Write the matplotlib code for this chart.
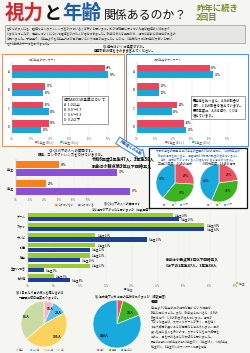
import numpy as np
import matplotlib.pyplot as plt
from matplotlib.patches import Rectangle

plt.rcParams['font.family'] = ['Noto Sans CJK JP', 'DejaVu Sans']

# Q1 視力 (令和5年度 / 令和6年度)
levels = ['A', 'B', 'C', 'D']
r5_year1 = [48, 17, 16, 19]
r5_year2 = [50, 16, 19, 15]
r6_year1 = [40, 12, 22, 26]
r6_year2 = [42, 12, 19, 27]
r5_legend = ['1年生 (50人)', '2年生 (53人)']
r6_legend = ['1年生 (41人)', '2年生 (53人)']

# Q2 眼鏡・コンタクト
q2_grades = ['2年生', '3年生']
q2_no = [30, 21]
q2_yes = [70, 79]
q2_legend = ['つけていない', 'つけている']

# 文部科学省の調査
pie_labels = ['A', 'B', 'C以下']
pie_h27 = [26, 35, 39]
pie_r1 = [23, 34, 44]

# Q3 視力が下がった理由
q3_reasons = ['ゲーム', 'スマホ', 'テレビ', '読書', '勉強', '生まれつき', 'その他']
q3_year2 = [28, 34, 13, 13, 12, 12, 5]
q3_year3 = [29, 34, 23, 12, 10, 3, 8]

# Q4, Q5
q4_labels = ['毎日', '4〜6日', '1〜3日', '0日']
q4_counts = [15, 23, 105, 81]
q5_labels = ['痛み', '乱視', '特にない']
q5_counts = [9, 33, 180]

RED, CYAN = '#e8475a', '#1aa6d8'
ORANGE, PURPLE = '#f5821f', '#8b4fd6'
LIME, NAVY = '#9cc93a', '#1b3f9a'
PIE3 = ['#ea5362', '#3cb421', '#19a9dd']
PIE4 = ['#f5b8c6', '#58bfe8', '#fbd35c', '#cadca4']

W, H = 250, 353
fig = plt.figure(figsize=(W / 100, H / 100), dpi=100)
fig.patch.set_facecolor('#f5f5f2')


def px_axes(x, y, w, h):
    ax = fig.add_axes([x / W, 1 - (y + h) / H, w / W, h / H])
    ax.set_facecolor('none')
    return ax


def txt(x, y, s, **kw):
    kw.setdefault('fontsize', 2.2)
    return fig.text(x / W, 1 - y / H, s, **kw)


def box(x, y, w, h, ec, fc='white', lw=0.8):
    fig.patches.append(Rectangle((x / W, 1 - (y + h) / H), w / W, h / H,
                                 transform=fig.transFigure, ec=ec, fc=fc,
                                 lw=lw, zorder=-1))


def key(x, y, color, label, fs=2.0):
    txt(x, y, '■', color=color, fontsize=fs, va='center')
    txt(x + 3, y, label, fontsize=fs, va='center', color='#444444')


def style_bar_axes(ax, xmax, step, tmax=None):
    ticks = np.arange(0, (tmax if tmax is not None else xmax) + 0.1, step)
    ax.set_xlim(0, xmax)
    ax.set_xticks(ticks)
    ax.set_xticklabels([f'{t:.0f}%' for t in ticks])
    ax.tick_params(axis='x', labelsize=1.8, length=0, pad=1, colors='#777777')
    ax.tick_params(axis='y', labelsize=2.2, length=0, pad=1.5)
    for s in ['top', 'right', 'bottom']:
        ax.spines[s].set_visible(False)
    ax.spines['left'].set_color('#bbbbbb')
    ax.spines['left'].set_linewidth(0.3)
    ax.grid(axis='x', color='#e4e4e4', lw=0.3)
    ax.set_axisbelow(True)


# ---- タイトル ----
txt(5, 19, '視力', color='#d8252b', fontsize=14, fontweight='bold', va='baseline')
txt(44, 19, 'と', color='#111111', fontsize=13, fontweight='bold', va='baseline')
txt(62, 19, '年齢', color='#1f5fa8', fontsize=14, fontweight='bold', va='baseline')
txt(104, 19, '関係あるのか？', color='#111111', fontsize=8.6, va='baseline')
txt(196, 11, '昨年に続き', color='#7b8a1c', fontsize=6, fontweight='bold', va='baseline')
txt(196, 20, '2回目', color='#7b8a1c', fontsize=6, fontweight='bold', va='baseline')

box(5, 25, 240, 18, ec='#999999', fc='#e6e6e4', lw=0.5)
intro = ('皆さんの友人にも、眼鏡やコンタクトレンズをかけている人は多いと思います。私が幼稚園に行っていた頃は眼鏡の人はあまり\n'
         'いませんでしたが、進学していくにつれて眼鏡をかけた人が増えてきました。昨年はそんな疑問から、視力と年齢には関係があるの\n'
         'か調べました。予想通り、1年生よりも2年生の方が目が悪いという結果が出ました。しかし、1年分だけでは誤差が大きいと思い、\n'
         'もう1年分のデータを取りました。')
txt(7, 26.5, intro, fontsize=2.1, va='top', linespacing=1.25, color='#333333')

txt(125, 49, 'Q1.視力はいくつ程度ですか。\n健康診断の値をそのまま答えてください。',
    fontsize=2.3, ha='center', va='center', linespacing=1.25)

# ---- Q1 令和5年度 ----
box(2, 54, 122, 92, ec='#f08a4b', lw=0.7)
ax = px_axes(12, 62, 106, 74)
y = np.arange(len(levels))
ax.barh(y - 0.18, r5_year1, height=0.34, color=RED)
ax.barh(y + 0.18, r5_year2, height=0.34, color=CYAN)
for yi, a, b in zip(y, r5_year1, r5_year2):
    ax.text(a + 0.8, yi - 0.18, f'{a}%', va='center', fontsize=2)
    ax.text(b + 0.8, yi + 0.18, f'{b}%', va='center', fontsize=2)
ax.set_yticks(y)
ax.set_yticklabels(levels)
ax.set_ylim(len(levels) - 0.5, -0.5)
style_bar_axes(ax, 55, 10)
txt(42, 60, '令和5年度のアンケート', fontsize=2, ha='center', color='#444444')
key(35, 142, RED, r5_legend[0])
key(60, 142, CYAN, r5_legend[1])
txt(64, 98, '視力ABCDの基準について\nA  1.0以上\nB  0.9〜0.7\nC  0.6〜0.3\nD  0.2以下',
    fontsize=2.6, va='top', linespacing=1.35,
    bbox=dict(boxstyle='square,pad=0.5', fc='white', ec='#555555', lw=0.4))

# ---- Q1 令和6年度 ----
box(126, 54, 122, 92, ec='#4a8fd0', lw=0.7)
ax = px_axes(137, 62, 100, 74)
ax.barh(y - 0.18, r6_year1, height=0.34, color=RED)
ax.barh(y + 0.18, r6_year2, height=0.34, color=CYAN)
for yi, a, b in zip(y, r6_year1, r6_year2):
    ax.text(a + 0.8, yi - 0.18, f'{a}%', va='center', fontsize=2)
    ax.text(b + 0.8, yi + 0.18, f'{b}%', va='center', fontsize=2)
ax.set_yticks(y)
ax.set_yticklabels(levels)
ax.set_ylim(len(levels) - 0.5, -0.5)
style_bar_axes(ax, 55, 10)
txt(167, 60, '令和6年度のアンケート', fontsize=2, ha='center', color='#444444')
key(165, 142, RED, r6_legend[0])
key(192, 142, CYAN, r6_legend[1])
txt(193, 98, '■全体を比べると、A,Bの割合は\n減り、C,Dの割合は増えています。\n■昨年度に、A,Bは減り、C,Dは\n増えています。',
    fontsize=2.3, va='top', linespacing=1.35,
    bbox=dict(boxstyle='square,pad=0.5', fc='white', ec='#555555', lw=0.4))

txt(130, 148, '昨年度との比較', fontsize=2.6, ha='center', va='center', rotation=-32,
    color='#1f4f9a', fontweight='bold',
    bbox=dict(boxstyle='rarrow,pad=0.5', fc='white', ec='#3a8fd8', lw=0.8))

# ---- Q2 ----
txt(72, 153, 'Q2.Q1以下の人への質問です。\n眼鏡、コンタクトレンズをつけていますか。',
    fontsize=2.4, ha='center', va='center', linespacing=1.3)
ax = px_axes(16, 159, 130, 38)
y2 = np.arange(len(q2_grades))
ax.barh(y2 - 0.21, q2_no, height=0.34, color=ORANGE)
ax.barh(y2 + 0.21, q2_yes, height=0.34, color=PURPLE)
for yi, a, b in zip(y2, q2_no, q2_yes):
    ax.text(a + 1, yi - 0.21, f'{a}%', va='center', fontsize=2)
    ax.text(b + 1, yi + 0.21, f'{b}%', va='center', fontsize=2)
ax.set_yticks(y2)
ax.set_yticklabels(q2_grades)
ax.set_ylim(len(q2_grades) - 0.5, -0.5)
style_bar_axes(ax, 90, 10, tmax=50)
ax.tick_params(axis='y', labelsize=2)
key(55, 205, ORANGE, q2_legend[0])
key(78, 205, PURPLE, q2_legend[1])
txt(92, 162, '令和6年度2年生47人、3年生58人\n割合は小数点第3位以下四捨五入',
    fontsize=3, va='center', fontweight='bold', linespacing=1.3)

# ---- 文部科学省の調査 ----
box(149, 148, 98, 60, ec='#111111', lw=0.9)
txt(198, 155, '文部科学省の調査 平成27年度の全国の13歳の視力と、令和元年度の\n14歳の視力を比べると、裸眼視力1.0未満の割合が増えています。\n年々、視力が下がっている人が増えていると考えられます。',
    fontsize=2, ha='center', va='center', color='#2a5db0', linespacing=1.25)
for cx, vals, title in [(175, pie_h27, '平成27年度　13歳の視力'),
                        (219, pie_r1, '令和元年度　14歳の視力')]:
    ax = px_axes(cx - 19, 183 - 19, 38, 38)
    ax.pie(vals, colors=PIE3, startangle=90, counterclock=False,
           labels=[f'{v}%' for v in vals], labeldistance=0.55,
           wedgeprops=dict(ec='white', lw=0.4), textprops=dict(fontsize=2.2))
    ax.set_xlim(-1, 1)
    ax.set_ylim(-1, 1)
    txt(cx, 163, title, fontsize=2.2, ha='center', va='center', color='#333333')
    for i, (c, lab) in enumerate(zip(PIE3, pie_labels)):
        key(cx - 12 + i * 8.5, 204, c, lab, fs=1.6)

# ---- Q3 ----
txt(122, 203, 'Q3.Q1以下の人への質問です', fontsize=2.1, ha='center', va='center')
txt(122, 209.5, 'なぜ視力が下がったと思いますか（複数回答）', fontsize=2.1,
    ha='center', va='center')
ax = px_axes(28, 212, 218, 71)
y3 = np.arange(len(q3_reasons))
ax.barh(y3 - 0.21, q3_year2, height=0.4, color=LIME)
ax.barh(y3 + 0.21, q3_year3, height=0.4, color=NAVY)
for yi, a, b in zip(y3, q3_year2, q3_year3):
    ax.text(a + 0.4, yi - 0.21, f'2年生 {a}%', va='center', fontsize=1.8)
    ax.text(b + 0.4, yi + 0.21, f'3年生 {b}%', va='center', fontsize=1.8)
ax.set_yticks(y3)
ax.set_yticklabels(q3_reasons)
ax.set_ylim(len(q3_reasons) - 0.5, -0.5)
style_bar_axes(ax, 42, 5)
ax.tick_params(axis='y', labelsize=2.2)
key(236, 283, LIME, '2年生', fs=1.8)
key(124, 289, NAVY, '3年生', fs=1.8)
txt(166, 263, '割合は小数点第3位以下四捨五入\nCは下の2年生47人、3年生58人',
    fontsize=2.6, va='center', fontweight='bold', linespacing=1.3)

# ---- Q4 ----
txt(40, 295, 'Q4.1日あたり目の疲れを感じるのは\n一週間に何日程度ありますか。',
    fontsize=2.2, ha='center', va='center', linespacing=1.3)
ax = px_axes(44 - 23, 324 - 23, 46, 46)
ax.pie(q4_counts, colors=PIE4,
       startangle=90, counterclock=False, labels=[f'{v}人' for v in q4_counts],
       labeldistance=0.68, wedgeprops=dict(ec='white', lw=0.4),
       textprops=dict(fontsize=2.4, fontweight='bold'))
ax.set_xlim(-1, 1)
ax.set_ylim(-1, 1)
for i, (c, lab) in enumerate(zip(PIE4, q4_labels)):
    key(16 + i * 14, 349.5, c, lab, fs=1.7)

# ---- Q5 ----
txt(132, 296, 'Q5.視力低下以外に目の症状はありますか（複数回答）',
    fontsize=2.2, ha='center', va='center')
ax = px_axes(117 - 24, 324 - 24, 48, 48)
ax.pie(q5_counts, colors=PIE3, startangle=90, counterclock=False,
       labels=['', f'{q5_counts[1]}人', f'{q5_counts[2]}人'], labeldistance=0.62,
       wedgeprops=dict(ec='white', lw=0.4), textprops=dict(fontsize=2.4, fontweight='bold'))
ax.set_xlim(-1, 1)
ax.set_ylim(-1, 1)
for i, (c, lab) in enumerate(zip(PIE3, q5_labels)):
    key(97 + i * 12, 349.5, c, lab, fs=1.7)

# ---- 考察 ----
txt(151, 302, '考察', fontsize=2.8, va='center', fontweight='bold')
memo = ('1年生より2年生の方が視力が悪いという結果は、\n'
        '昨年と同じでした。また、昨年度と比べると、A,Bの\n'
        '割合は減り、C,Dの割合が増えています。視力が\n'
        '下がった理由は、スマホやゲームが多く、目を近く\n'
        'で使う時間が長いことが原因だと考えられます。目の\n'
        '疲れを感じる人も多いので、スマホなどを使う時間を\n'
        '減らし、目を休めることが大切だと思いました。')
txt(151, 305, memo, fontsize=2.1, va='top', linespacing=1.3, color='#333333')
txt(151, 344, '調査は中学校令和6年度の本校2年生47人、3年生58人、令和5年度\n1年生50人、2年生53人のアンケート結果を使用',
    fontsize=1.9, va='center', linespacing=1.3, color='#333333')

fig.savefig('out.png', dpi=100, facecolor=fig.get_facecolor())
